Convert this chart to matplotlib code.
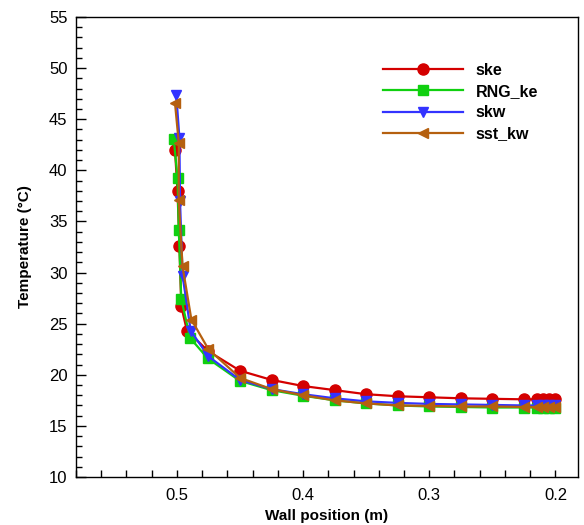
import matplotlib
matplotlib.use("Agg")
import matplotlib.pyplot as plt
from matplotlib.ticker import MultipleLocator

plt.rcParams['font.family'] = ['Liberation Sans', 'DejaVu Sans']

# wall position (m) and temperature (degC) for each turbulence model
ske_x = [0.5015, 0.4995, 0.498, 0.4965, 0.492, 0.475, 0.45, 0.425, 0.4, 0.375,
         0.35, 0.325, 0.3, 0.275, 0.25, 0.225, 0.215, 0.21, 0.205, 0.2]
ske_T = [42.0, 38.0, 32.6, 26.7, 24.3, 22.3, 20.4, 19.5, 18.9, 18.5,
         18.1, 17.9, 17.8, 17.7, 17.65, 17.6, 17.6, 17.6, 17.6, 17.6]

rng_x = [0.5025, 0.4995, 0.4985, 0.4965, 0.4895, 0.4755, 0.45, 0.425, 0.4, 0.375,
         0.35, 0.325, 0.3, 0.275, 0.25, 0.225, 0.215, 0.21, 0.205, 0.2]
rng_T = [43.1, 39.3, 34.2, 27.4, 23.6, 21.6, 19.4, 18.5, 17.95, 17.5,
         17.2, 17.0, 16.9, 16.85, 16.8, 16.8, 16.8, 16.8, 16.8, 16.8]

skw_x = [0.5005, 0.498, 0.4975, 0.4955, 0.489, 0.475, 0.45, 0.425, 0.4, 0.375,
         0.35, 0.325, 0.3, 0.275, 0.25, 0.225, 0.215, 0.21, 0.205, 0.2]
skw_T = [47.4, 43.2, 37.0, 29.7, 24.3, 21.8, 19.5, 18.6, 18.1, 17.7,
         17.4, 17.25, 17.15, 17.1, 17.05, 17.0, 17.0, 17.0, 17.0, 17.0]

sst_x = [0.5015, 0.4985, 0.4985, 0.4955, 0.4885, 0.475, 0.45, 0.425, 0.4, 0.375,
         0.35, 0.325, 0.3, 0.275, 0.25, 0.225, 0.215, 0.21, 0.205, 0.2]
sst_T = [46.6, 42.7, 37.1, 30.6, 25.4, 22.5, 19.7, 18.6, 18.0, 17.5,
         17.2, 17.0, 16.95, 16.9, 16.9, 16.85, 16.85, 16.85, 16.85, 16.85]

fig = plt.figure(figsize=(5.84, 5.25), dpi=100)
ax = fig.add_axes([0.130, 0.0914, 0.860, 0.8762])

ax.plot(ske_x, ske_T, color='#d40000', lw=1.6, marker='o', ms=8, label='ske')
ax.plot(rng_x, rng_T, color='#10d010', lw=1.6, marker='s', ms=7, label='RNG_ke')
ax.plot(skw_x, skw_T, color='#3333ff', lw=1.6, marker='v', ms=7.5, label='skw')
ax.plot(sst_x, sst_T, color='#b5600f', lw=1.6, marker='<', ms=7.5, label='sst_kw')

ax.set_xlim(0.58, 0.182)
ax.set_ylim(10, 55)
ax.xaxis.set_major_locator(MultipleLocator(0.1))
ax.xaxis.set_minor_locator(MultipleLocator(0.02))
ax.yaxis.set_major_locator(MultipleLocator(5))
ax.yaxis.set_minor_locator(MultipleLocator(1))
ax.tick_params(which='both', direction='in', top=False, right=False,
               labelsize=12, width=1, color='black')
ax.tick_params(axis='x', which='major', length=5, pad=8)
ax.tick_params(axis='x', which='minor', length=5)
ax.tick_params(axis='y', which='major', length=7, pad=6)
ax.tick_params(axis='y', which='minor', length=4)
for s in ax.spines.values():
    s.set_linewidth(1)

ax.set_xlabel('Wall position (m)', fontsize=11, fontweight='bold', labelpad=4)
ax.set_ylabel('Temperature (°C)', fontsize=11, fontweight='bold', labelpad=12)

leg = ax.legend(loc='upper left', bbox_to_anchor=(0.612, 0.90), frameon=False,
                handlelength=5, handletextpad=0.8, labelspacing=0.38,
                borderaxespad=0, borderpad=0,
                prop={'weight': 'bold', 'size': 11.5})

fig.savefig('out.png', dpi=100)
